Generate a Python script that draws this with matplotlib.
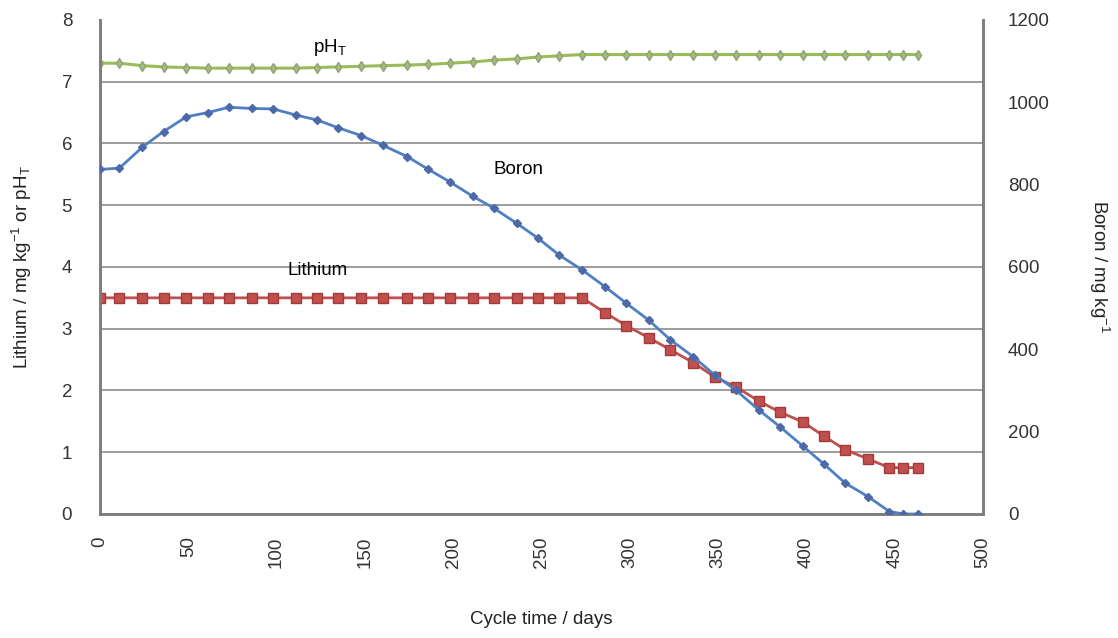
import matplotlib.pyplot as plt
import numpy as np

plt.rcParams['font.family'] = ['Liberation Sans', 'DejaVu Sans']
plt.rcParams['mathtext.default'] = 'regular'

# sampling days (shared by all three series)
days = [0, 11, 24, 36, 49, 61, 73, 86, 98, 111, 123, 135, 148, 160, 174, 186,
        198, 211, 223, 236, 248, 260, 273, 286, 298, 311, 323, 336, 348, 360,
        373, 385, 398, 410, 422, 435, 447, 455, 463]

lithium = [3.5] * 23 + [3.26, 3.05, 2.85, 2.66, 2.45, 2.22, 2.06, 1.83, 1.65,
                        1.49, 1.26, 1.04, 0.89, 0.75, 0.75, 0.75]

ph = [7.30, 7.30, 7.26, 7.24, 7.23, 7.22, 7.22, 7.22, 7.22, 7.22, 7.23, 7.24,
      7.25, 7.26, 7.27, 7.28, 7.30, 7.32, 7.35, 7.37, 7.40, 7.42, 7.44] + [7.44] * 16

boron = [837, 840, 891, 929, 965, 975, 988, 985, 984, 969, 957, 938, 919, 896,
         868, 837, 807, 772, 743, 706, 670, 629, 593, 552, 512, 470, 423, 382,
         338, 301, 253, 212, 165, 121, 75, 42, 6, 0, 0]

fig = plt.figure(figsize=(11.18, 6.38), dpi=100)
ax = fig.add_axes([0.0894, 0.1944, 0.7898, 0.7743])
ax2 = ax.twinx()

# gridlines on the left scale
for v in range(1, 8):
    ax.axhline(v, color='#8c8c8c', lw=1.2, zorder=0)

ax.plot(days, lithium, color='#c0504d', lw=2, marker='s', ms=6.5,
        mfc='#c0504d', mec='#a33a37', zorder=3)
ax.plot(days, ph, color='#9bbb59', lw=2.2, marker='d', ms=5,
        mfc='#a7b88a', mec='#8ea36a', zorder=3)
ax2.plot(days, boron, color='#4f7fc4', lw=2, marker='D', ms=4.5,
         mfc='#4d69a8', mec='#4d69a8', zorder=3)

ax.set_xlim(0, 500)
ax.set_ylim(0, 8)
ax2.set_ylim(0, 1200)
ax.set_xticks(range(0, 501, 50))
ax.set_yticks(range(0, 9))
ax2.set_yticks(range(0, 1201, 200))

ax.tick_params(axis='x', length=0, pad=16, labelsize=13.5, labelrotation=90,
               colors='#333333')
ax.tick_params(axis='y', length=0, pad=20, labelsize=13.5, colors='#333333')
ax2.tick_params(axis='y', length=0, pad=18, labelsize=13.5, colors='#333333')

for a in (ax, ax2):
    a.spines['top'].set_visible(False)
    for s in ('left', 'right', 'bottom'):
        a.spines[s].set_color('#7f7f7f')
        a.spines[s].set_linewidth(2)

ax.set_xlabel('Cycle time / days', fontsize=13.5, labelpad=31, color='#222222')
ax.set_ylabel('Lithium / mg kg$^{-1}$ or pH$_T$', fontsize=13.5, labelpad=20,
              color='#222222')
ax2.set_ylabel('Boron / mg kg$^{-1}$', fontsize=13.5, rotation=-90, labelpad=44,
               color='#222222')

ax.text(130, 7.55, 'pH$_T$', fontsize=13.5, ha='center', va='center')
ax.text(237, 5.58, 'Boron', fontsize=13.5, ha='center', va='center')
ax.text(123, 3.95, 'Lithium', fontsize=13.5, ha='center', va='center')

fig.savefig('out.png', dpi=100)
